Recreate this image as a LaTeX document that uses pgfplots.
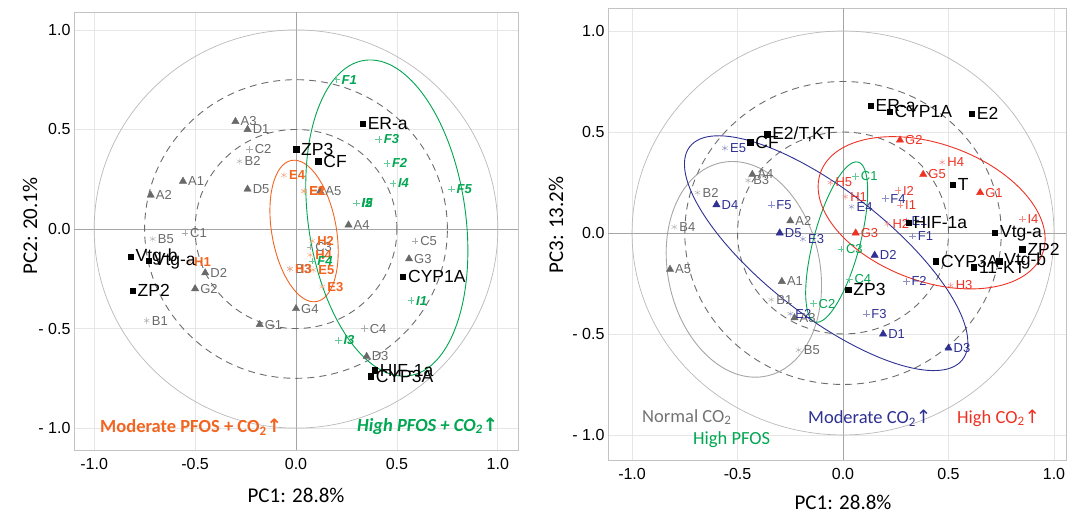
\documentclass[border=0pt]{standalone}
\usepackage{pgfplots}
\pgfplotsset{compat=1.18}
\usepackage{fontspec}
\setmainfont{Liberation Sans}
\newfontfamily\calib{Carlito}
\newfontfamily\dv{DejaVu Sans}

\definecolor{cgray}{RGB}{105,105,105}
\definecolor{cstar}{RGB}{170,170,170}
\definecolor{corange}{RGB}{241,101,33}
\definecolor{cgreen}{RGB}{0,166,81}
\definecolor{cnavy}{RGB}{46,49,146}
\definecolor{cred}{RGB}{237,50,36}
\definecolor{cgrid}{RGB}{230,230,230}
\definecolor{czero}{RGB}{165,165,165}
\definecolor{cframe}{RGB}{195,195,195}

\pgfplotsset{
  pca/.style={scale only axis, anchor=south west, clip=false,
    xtick={-1,-0.5,0,0.5,1}, ytick={-1,-0.5,0,0.5,1},
    xticklabels={-1.0,-0.5,0.0,0.5,1.0},
    yticklabels={- 1.0,- 0.5,0.0,0.5,1.0},
    grid=major, grid style={cgrid, line width=0.7pt},
    axis line style={cframe, line width=0.8pt},
    major tick length=0pt,
    tick label style={font=\fontsize{16}{18}\selectfont},
    xticklabel style={yshift=-5pt}},
  lab/.style={only marks, point meta=explicit symbolic, nodes near coords,
    every node near coord/.append style={anchor=west, inner sep=0pt, xshift=5pt,
      font=\fontsize{13}{15}\selectfont}},
  ltxt/.style={every node near coord/.append style={text=#1}},
  tri/.style={lab, mark=triangle*, mark size=4.2pt, mark options={draw=none}},
  star/.style={lab, mark=asterisk, mark size=3.2pt},
  plus/.style={lab, mark=+, mark size=3.3pt},
  sq/.style={lab, mark=square*, mark size=2.7pt, black,
    every node near coord/.append style={font=\fontsize{17.5}{19}\selectfont, text=black}},
}

\begin{document}
\begin{tikzpicture}
\useasboundingbox (0,0) rectangle (1068pt,516pt);

% ---------- left: PC1 vs PC2 ----------
\begin{axis}[pca, at={(74pt,66pt)}, width=444pt, height=438pt,
    xmin=-1.1, xmax=1.1, ymin=-1.11, ymax=1.09]
  \draw[czero, line width=0.7pt] (axis cs:0,-1.11) -- (axis cs:0,1.09);
  \draw[czero, line width=0.7pt] (axis cs:-1.1,0) -- (axis cs:1.1,0);
  \draw[gray!55, line width=0.7pt] (axis cs:0,0) circle[radius=1];
  \draw[gray!85!black, line width=0.9pt, dash pattern=on 7pt off 5pt] (axis cs:0,0) circle[radius=0.75];
  \draw[gray!85!black, line width=0.9pt, dash pattern=on 7pt off 5pt] (axis cs:0,0) circle[radius=0.5];
  \draw[corange, line width=0.9pt, rotate around={10:(axis cs:0.04,-0.01)}]
    (axis cs:0.04,-0.01) ellipse[x radius=0.16, y radius=0.36];
  \draw[cgreen, line width=0.9pt, rotate around={8:(axis cs:0.45,0.055)}]
    (axis cs:0.45,0.055) ellipse[x radius=0.39, y radius=0.80];

  \addplot[tri, color=cgray, ltxt=cgray] coordinates {
    (-0.56,0.24)[A1] (-0.72,0.17)[A2] (-0.30,0.54)[A3] (0.26,0.02)[A4] (0.12,0.19)[A5]
    (-0.24,0.50)[D1] (-0.45,-0.22)[D2] (0.35,-0.64)[D3] (-0.24,0.20)[D5]
    (-0.18,-0.48)[G1] (-0.50,-0.30)[G2] (0.56,-0.15)[G3] (0.00,-0.40)[G4]};
  \addplot[star, color=cstar, ltxt=cgray] coordinates {
    (-0.74,-0.46)[B1] (-0.28,0.34)[B2] (-0.03,-0.20)[B3] (-0.71,-0.05)[B5]};
  \addplot[plus, color=cstar, ltxt=cgray] coordinates {
    (-0.55,-0.02)[C1] (-0.23,0.40)[C2] (0.07,-0.09)[C3] (0.34,-0.50)[C4] (0.59,-0.06)[C5]};
  \addplot[star, color=corange!60, ltxt=corange,
    every node near coord/.append style={font=\fontsize{13}{15}\selectfont\bfseries}] coordinates {
    (0.04,0.19)[E1] (0.04,0.19)[E2] (0.13,-0.29)[E3] (-0.06,0.27)[E4] (0.085,-0.205)[E5]
    (-0.53,-0.165)[H1] (0.08,-0.06)[H2] (-0.03,-0.20)[H3] (0.07,-0.13)[H4]};
  \addplot[plus, color=cgreen!60, ltxt=cgreen,
    every node near coord/.append style={font=\fontsize{13}{15}\selectfont\bfseries\itshape}] coordinates {
    (0.20,0.75)[F1] (0.45,0.33)[F2] (0.41,0.45)[F3] (0.08,-0.16)[F4] (0.77,0.20)[F5]
    (0.57,-0.36)[I1] (0.30,0.13)[I2] (0.21,-0.56)[I3] (0.48,0.23)[I4] (0.30,0.13)[I5]};
  \addplot[sq] coordinates {
    (-0.82,-0.14)[Vtg-b] (-0.73,-0.16)[Vtg-a] (-0.81,-0.31)[ZP2] (0.00,0.40)[ZP3]
    (0.11,0.34)[CF] (0.33,0.53)[ER-a] (0.53,-0.24)[CYP1A] (0.39,-0.71)[HIF-1a]
    (0.37,-0.74)[CYP3A]};
\end{axis}

% ---------- right: PC1 vs PC3 ----------
\begin{axis}[pca, at={(608pt,56pt)}, width=458pt, height=452pt,
    xmin=-1.114, xmax=1.057, ymin=-1.124, ymax=1.114]
  \draw[czero, line width=0.7pt] (axis cs:0,-1.124) -- (axis cs:0,1.114);
  \draw[czero, line width=0.7pt] (axis cs:-1.114,0) -- (axis cs:1.057,0);
  \draw[gray!55, line width=0.7pt] (axis cs:0,0) circle[radius=1];
  \draw[gray!85!black, line width=0.9pt, dash pattern=on 7pt off 5pt] (axis cs:0,0) circle[radius=0.75];
  \draw[gray!85!black, line width=0.9pt, dash pattern=on 7pt off 5pt] (axis cs:0,0) circle[radius=0.5];
  \draw[gray!70, line width=0.9pt, rotate around={12:(axis cs:-0.47,-0.18)}]
    (axis cs:-0.47,-0.18) ellipse[x radius=0.36, y radius=0.54];
  \draw[cgreen, line width=0.9pt, rotate around={-15:(axis cs:-0.03,-0.045)}]
    (axis cs:-0.03,-0.045) ellipse[x radius=0.11, y radius=0.41];
  \draw[cnavy, line width=0.9pt, rotate around={-38:(axis cs:-0.08,-0.10)}]
    (axis cs:-0.08,-0.10) ellipse[x radius=0.82, y radius=0.31];
  \draw[cred, line width=0.9pt, rotate around={-20:(axis cs:0.42,0.10)}]
    (axis cs:0.42,0.10) ellipse[x radius=0.56, y radius=0.34];

  \addplot[tri, color=cgray, ltxt=cgray] coordinates {
    (-0.29,-0.24)[A1] (-0.25,0.06)[A2] (-0.23,-0.42)[A3] (-0.43,0.29)[A4] (-0.82,-0.18)[A5]};
  \addplot[star, color=cstar, ltxt=cgray] coordinates {
    (-0.34,-0.33)[B1] (-0.69,0.20)[B2] (-0.45,0.26)[B3] (-0.80,0.03)[B4] (-0.21,-0.58)[B5]};
  \addplot[plus, color=cgreen!60, ltxt=cgreen] coordinates {
    (0.06,0.28)[C1] (-0.14,-0.35)[C2] (-0.01,-0.08)[C3] (0.03,-0.23)[C4]};
  \addplot[tri, color=cnavy, ltxt=cnavy] coordinates {
    (0.19,-0.50)[D1] (0.15,-0.11)[D2] (0.50,-0.57)[D3] (-0.60,0.14)[D4] (-0.30,0.00)[D5]};
  \addplot[star, color=cnavy!55, ltxt=cnavy] coordinates {
    (0.30,0.06)[E1] (-0.25,-0.40)[E2] (-0.19,-0.03)[E3] (0.04,0.13)[E4] (-0.56,0.42)[E5]};
  \addplot[plus, color=cnavy!55, ltxt=cnavy] coordinates {
    (0.33,-0.015)[F1] (0.30,-0.24)[F2] (0.11,-0.40)[F3] (0.20,0.17)[F4] (-0.34,0.14)[F5]};
  \addplot[tri, color=cred, ltxt=cred] coordinates {
    (0.65,0.20)[G1] (0.27,0.46)[G2] (0.06,0.00)[G3] (0.38,0.29)[G5]};
  \addplot[star, color=cred!55, ltxt=cred] coordinates {
    (0.01,0.18)[H1] (0.21,0.045)[H2] (0.51,-0.26)[H3] (0.47,0.35)[H4] (-0.06,0.25)[H5]};
  \addplot[plus, color=cred!55, ltxt=cred] coordinates {
    (0.27,0.14)[I1] (0.26,0.21)[I2] (0.85,0.07)[I4]};
  \addplot[sq] coordinates {
    (-0.44,0.45)[CF] (-0.36,0.49)[{E2/T,KT}] (0.13,0.63)[ER-a] (0.22,0.60)[CYP1A]
    (0.61,0.59)[E2] (0.52,0.24)[T] (0.31,0.05)[HIF-1a] (0.72,0.00)[Vtg-a]
    (0.85,-0.08)[ZP2] (0.44,-0.14)[CYP3A] (0.74,-0.14)[Vtg-b] (0.62,-0.17)[11-KT]
    (0.025,-0.28)[ZP3]};
\end{axis}

% ---------- axis titles and group captions ----------
\node[rotate=90, font=\fontsize{21}{24}\selectfont\calib] at (30pt,290pt) {PC2: 20.1\%};
\node[font=\fontsize{21}{24}\selectfont\calib] at (296pt,21pt) {PC1: 28.8\%};
\node[rotate=90, font=\fontsize{21}{24}\selectfont\calib] at (556pt,291pt) {PC3: 13.2\%};
\node[font=\fontsize{21}{24}\selectfont\calib] at (843pt,14pt) {PC1: 28.8\%};

\node[anchor=west, inner sep=0pt, text=corange, font=\fontsize{18.5}{20}\selectfont\calib\bfseries]
  at (100pt,89pt) {Moderate PFOS + CO\textsubscript{2}{\dv\bfseries ↑}};
\node[anchor=west, inner sep=0pt, text=cgreen, font=\fontsize{18.5}{20}\selectfont\calib\bfseries\itshape]
  at (357pt,90pt) {High PFOS + CO\textsubscript{2}{\dv\bfseries ↑}};
\node[anchor=west, inner sep=0pt, text=gray!90!black, font=\fontsize{18.5}{20}\selectfont\calib]
  at (642pt,99pt) {Normal CO\textsubscript{2}};
\node[anchor=west, inner sep=0pt, text=cgreen, font=\fontsize{18.5}{20}\selectfont\calib]
  at (693pt,76pt) {High PFOS};
\node[anchor=west, inner sep=0pt, text=cnavy, font=\fontsize{18.5}{20}\selectfont\calib]
  at (808pt,98pt) {Moderate CO\textsubscript{2}{\dv ↑}};
\node[anchor=west, inner sep=0pt, text=cred, font=\fontsize{18.5}{20}\selectfont\calib]
  at (957pt,98pt) {High CO\textsubscript{2}{\dv ↑}};
\end{tikzpicture}
\end{document}
